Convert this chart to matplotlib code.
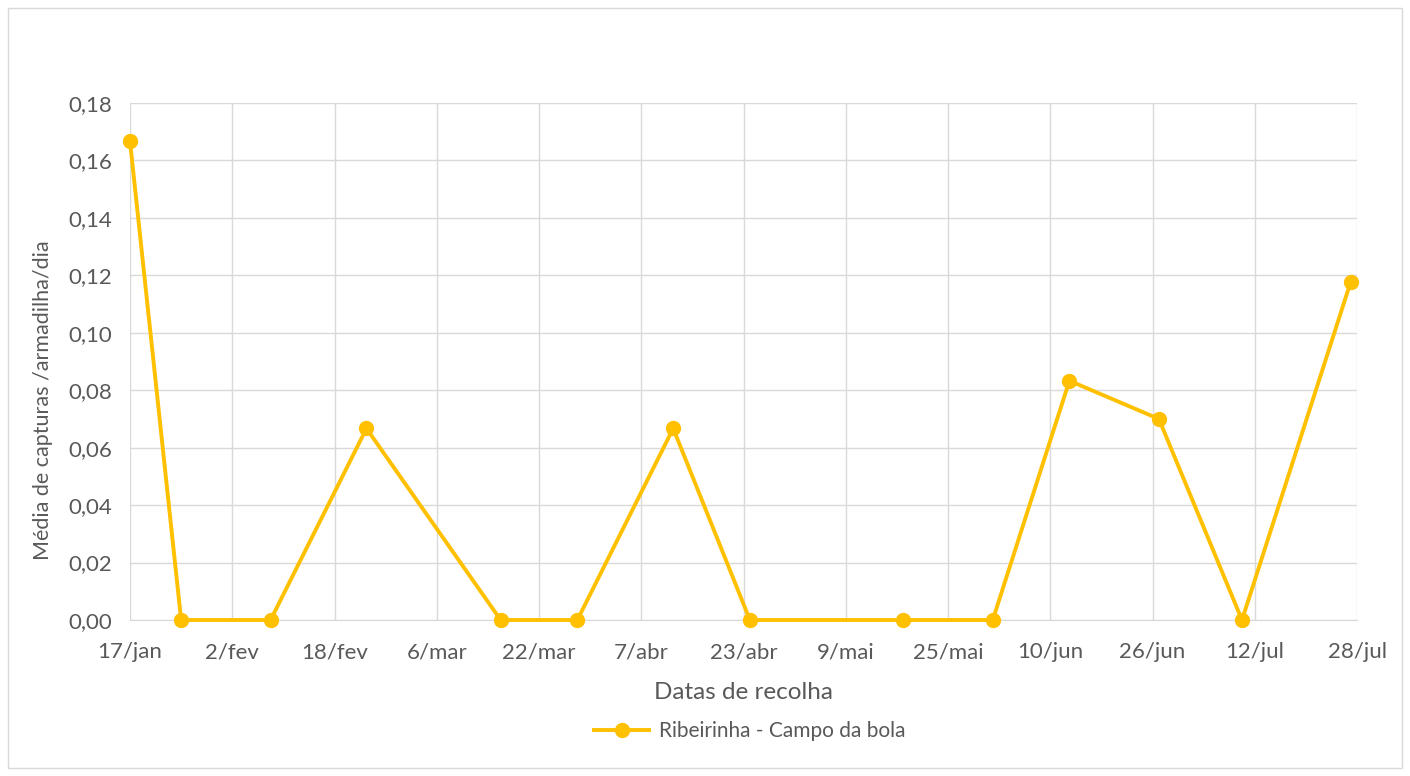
import matplotlib
matplotlib.use("Agg")
import matplotlib.pyplot as plt
from matplotlib.patches import Rectangle
import datetime as dt

plt.rcParams['font.family'] = ['Lato', 'DejaVu Sans']

dates = ["2021-01-17", "2021-01-25", "2021-02-08", "2021-02-23", "2021-03-16",
         "2021-03-28", "2021-04-12", "2021-04-24", "2021-05-18", "2021-06-01",
         "2021-06-13", "2021-06-27", "2021-07-10", "2021-07-27"]
values = [0.1667, 0, 0, 0.0667, 0, 0, 0.0667, 0, 0, 0, 0.0833, 0.07, 0, 0.1176]
series_name = "Ribeirinha - Campo da bola"
tick_dates = ["2021-01-17", "2021-02-02", "2021-02-18", "2021-03-06", "2021-03-22",
              "2021-04-07", "2021-04-23", "2021-05-09", "2021-05-25", "2021-06-10",
              "2021-06-26", "2021-07-12", "2021-07-28"]
tick_labels = ["17/jan", "2/fev", "18/fev", "6/mar", "22/mar", "7/abr", "23/abr",
               "9/mai", "25/mai", "10/jun", "26/jun", "12/jul", "28/jul"]
y_ticks = [0.00, 0.02, 0.04, 0.06, 0.08, 0.10, 0.12, 0.14, 0.16, 0.18]

x = [dt.datetime.strptime(d, "%Y-%m-%d") for d in dates]
xt = [dt.datetime.strptime(d, "%Y-%m-%d") for d in tick_dates]

W, H = 1410, 776
fig = plt.figure(figsize=(W/100, H/100), dpi=100)
fig.patches.append(Rectangle((8/W, 8/H), (1402-8)/W, (768-8)/H, transform=fig.transFigure,
                             fill=False, edgecolor='#d9d9d9', linewidth=1))
ax = fig.add_axes([130/W, 1-620/H, (1357-130)/W, (620-103)/H])

txt = '#595959'
ax.plot(x, values, color='#FFC000', linewidth=2.8, marker='o', markersize=10,
        label=series_name, zorder=3, clip_on=False)
ax.set_xlim(xt[0], xt[-1])
ax.set_ylim(0, 0.18)
ax.set_xticks(xt)
ax.set_xticklabels(tick_labels)
ax.set_yticks(y_ticks)
ax.set_yticklabels([f"{v:.2f}".replace('.', ',') for v in y_ticks])
ax.grid(True, color='#d9d9d9', linewidth=1)
ax.set_axisbelow(True)
for s in ['top', 'right', 'left']:
    ax.spines[s].set_visible(False)
ax.spines['bottom'].set_color('#d9d9d9')
ax.tick_params(length=0, labelsize=16, colors=txt)
ax.tick_params(axis='x', pad=16)
ax.tick_params(axis='y', pad=13)
ax.set_xlabel("Datas de recolha", fontsize=17.5, color=txt, labelpad=14)
ax.set_ylabel("Média de capturas /armadilha/dia", fontsize=15.5, color=txt)
ax.yaxis.set_label_coords(-(130-53)/(1357-130), (620-400)/(620-103))
leg = fig.legend(loc='center', bbox_to_anchor=(750/W, 1-731/H), frameon=False,
                 fontsize=15, labelcolor=txt, handlelength=2.6, handletextpad=0.5)
fig.savefig("out.png", dpi=100)
